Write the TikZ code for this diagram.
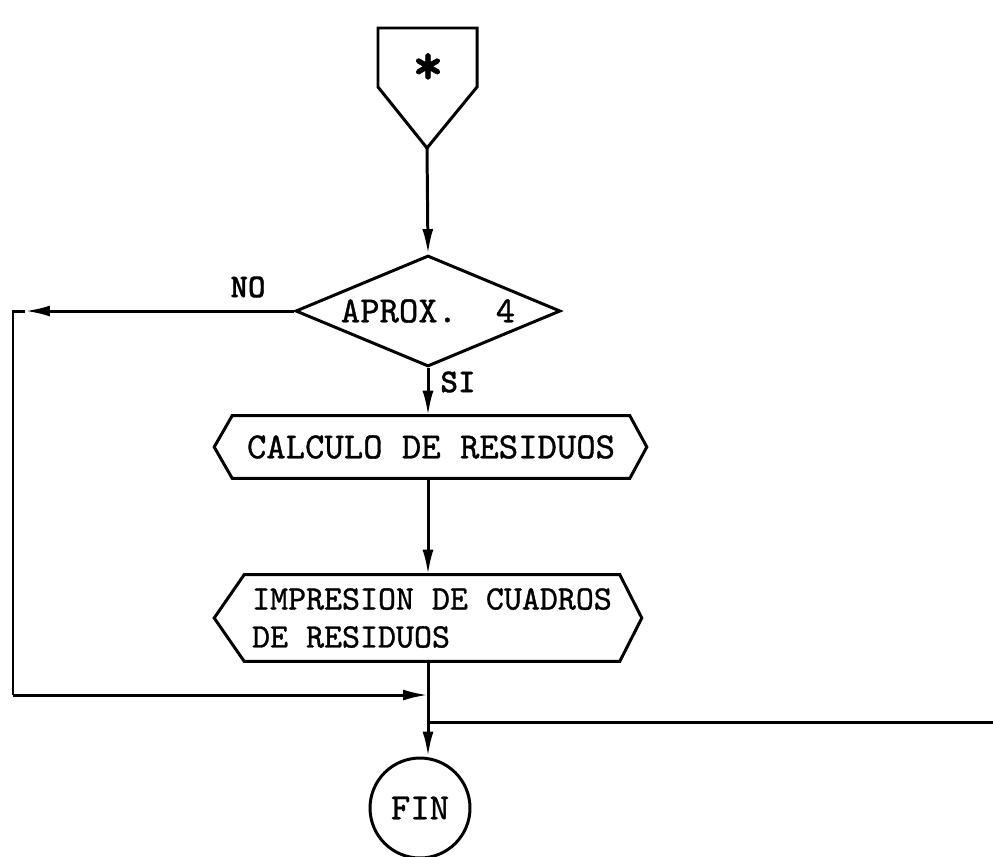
\documentclass[tikz,border=0pt]{standalone}
\usepackage{fontspec}
\newfontfamily\tipo{lmmono10-regular.otf}[FakeBold=1]
\newfontfamily\tipob{lmmonolt10-bold.otf}[FakeBold=1]
\usetikzlibrary{arrows.meta, shapes.geometric}

\begin{document}
\begin{tikzpicture}[x=0.02cm, y=-0.02cm,
    linea/.style={line width=1.7pt},
    flecha/.style={linea, -{Latex[length=5mm,width=2.2mm]}},
    texto/.style={font=\fontsize{21}{22}\selectfont\tipo},
    etiqueta/.style={font=\fontsize{19}{20}\selectfont\tipob},
    caja/.style={texto, inner sep=0pt}]

  \useasboundingbox (0,0) rectangle (993,856);

  % --- conector de entrada ---
  \draw[linea] (378,28) -- (477,28) -- (477,87) -- (427,148) -- (378,87) -- cycle;
  \coordinate (pico) at (427,148);
  \node[font=\fontsize{34}{34}\selectfont\tipob] (ast) at (428,69) {*};

  % --- decision ---
  \node[caja, draw, linea, diamond, aspect=2.4, minimum width=5.3cm,
    minimum height=2.22cm] (aprox) at (428,311) {APROX.~~4};
  \coordinate (eje) at (aprox.south);
  \node[etiqueta] (no) at (248,287) {NO};
  \node[etiqueta] (si) at (458,382) {SI};

  % --- calculo ---
  \node[caja, minimum width=7.94cm, minimum height=1.24cm] (calculo)
    at (431,447) {CALCULO DE RESIDUOS};
  \draw[linea] (calculo.north west) -- (calculo.north east)
    -- ([xshift=0.34cm]calculo.east) -- (calculo.south east)
    -- (calculo.south west) -- ([xshift=-0.36cm]calculo.west) -- cycle;

  % --- impresion ---
  \node[caja, font=\fontsize{19.5}{21.6}\selectfont\tipo,
    minimum width=7.5cm, minimum height=1.72cm, align=left]
    (impresion) at (432,618) {IMPRESION DE CUADROS\\DE RESIDUOS};
  \draw[linea] (impresion.north west) -- (impresion.north east)
    -- ([xshift=0.44cm]impresion.east) -- (impresion.south east)
    -- (impresion.south west) -- ([xshift=-0.6cm]impresion.west) -- cycle;

  % --- fin ---
  \node[caja, draw, linea, circle, minimum size=2cm] (fin) at (420,808) {FIN};

  % --- conexiones ---
  \draw[flecha] (pico) -- (aprox.north);
  \draw[flecha] (aprox.south) -- (calculo.north -| eje);
  \draw[flecha] (calculo.south -| eje) -- (impresion.north -| eje);
  \draw[flecha] (impresion.south -| eje) -- (fin.north -| eje);

  % rama NO
  \coordinate (flechaNO) at (25,311);
  \coordinate (esqA) at (13,311);
  \coordinate (esqB) at (13,695);
  \draw[flecha] (aprox.west) -- (flechaNO);
  \draw[linea] (flechaNO) -- (esqA) -- (esqB);
  \draw[flecha] (esqB) -- (esqB -| eje);

  % salida a la derecha
  \coordinate (salida) at (428,722);
  \coordinate (borde) at (993,722);
  \draw[linea] (salida) -- (borde);

\end{tikzpicture}
\end{document}
